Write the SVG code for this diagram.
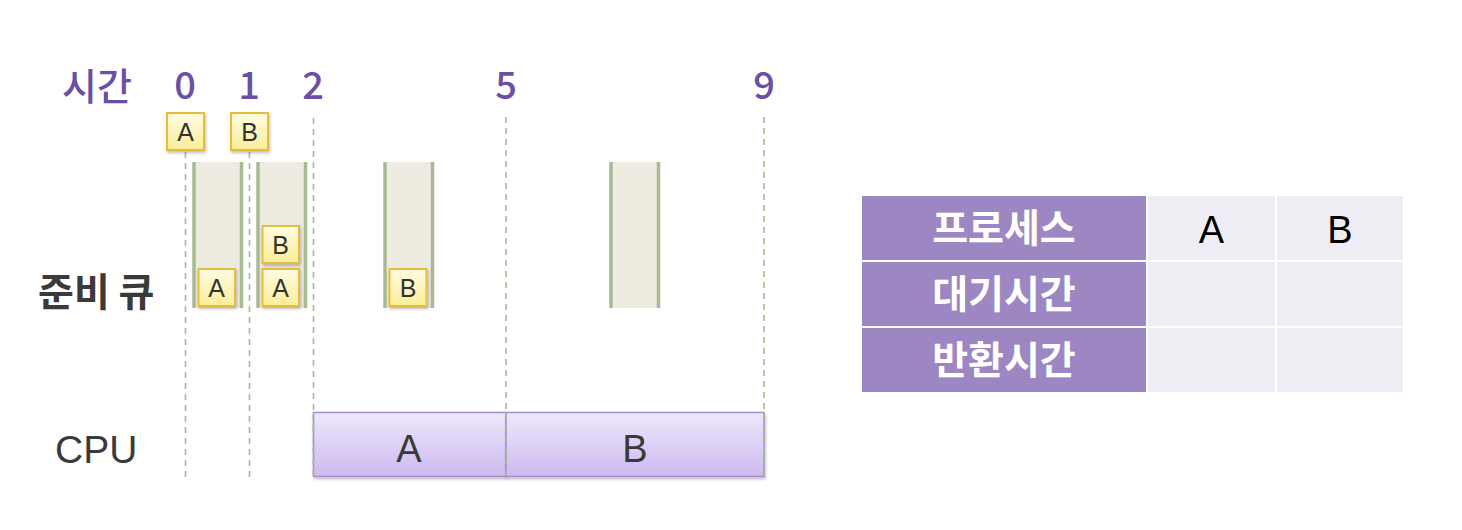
<svg xmlns="http://www.w3.org/2000/svg" width="1462" height="530" viewBox="0 0 1462 530">
<style>
.t{font-family:"Noto Sans CJK KR","Noto Sans",sans-serif;fill:#6B4FA3;font-size:38px;font-weight:500;text-anchor:middle}
.lbl{font-family:"Noto Sans CJK KR","Noto Sans",sans-serif;fill:#3A3A3A;font-size:39px;font-weight:700}
.cpu{font-family:"Liberation Sans",Arial,sans-serif;fill:#3A3A3A;font-size:39px}
.box{fill:url(#yg);stroke:#E6BE3A;stroke-width:2;filter:url(#sh)}
.bt{font-family:"Liberation Sans",Arial,sans-serif;fill:#333;font-size:25px;text-anchor:middle}
.q{fill:#EEEBE0}
.bar{stroke:#A9B993;stroke-width:3.5}
.dash{stroke:#A6BB90;stroke-width:1.6;stroke-dasharray:6 5;fill:none}
.hd{fill:#9D87C2}
.cell{fill:#EEEDF3}
.ht{font-family:"Noto Sans CJK KR","Noto Sans",sans-serif;fill:#fff;font-size:39px;font-weight:700;text-anchor:middle}
.ct{font-family:"Liberation Sans",Arial,sans-serif;fill:#000;font-size:38px;text-anchor:middle}
.pt{font-family:"Liberation Sans",Arial,sans-serif;fill:#3A3A3A;font-size:38px;text-anchor:middle}
</style>
<defs>
<linearGradient id="yg" x1="0" y1="0" x2="0" y2="1"><stop offset="0" stop-color="#FFFCE2"/><stop offset="1" stop-color="#FBEE98"/></linearGradient>
<linearGradient id="pg" x1="0" y1="0" x2="0" y2="1"><stop offset="0" stop-color="#EEE8FB"/><stop offset="1" stop-color="#CDB9F0"/></linearGradient>
<filter id="sh" x="-20%" y="-20%" width="150%" height="150%"><feDropShadow dx="1" dy="2" stdDeviation="1.5" flood-color="#000" flood-opacity="0.25"/></filter>
</defs>

<g id="time-labels">
<text class="t" x="97" y="100">시간</text>
<text class="t" x="185" y="99">0</text>
<text class="t" x="249" y="99">1</text>
<text class="t" x="313" y="99">2</text>
<text class="t" x="506" y="99">5</text>
<text class="t" x="764" y="99">9</text>
</g>

<g id="row-labels">
<text class="lbl" x="38" y="306">준비 큐</text>
<text class="cpu" x="55" y="463">CPU</text>
</g>

<g id="queue-columns">
<rect class="q" x="193" y="162" width="49" height="146"/>
<line class="bar" x1="194" y1="162" x2="194" y2="308"/><line class="bar" x1="241.5" y1="162" x2="241.5" y2="308"/>
<rect class="q" x="257" y="162" width="49" height="146"/>
<line class="bar" x1="258" y1="162" x2="258" y2="308"/><line class="bar" x1="305.5" y1="162" x2="305.5" y2="308"/>
<rect class="q" x="384" y="162" width="49" height="146"/>
<line class="bar" x1="385" y1="162" x2="385" y2="308"/><line class="bar" x1="432.5" y1="162" x2="432.5" y2="308"/>
<rect class="q" x="610" y="162" width="49" height="146"/>
<line class="bar" x1="611" y1="162" x2="611" y2="308"/><line class="bar" x1="658.5" y1="162" x2="658.5" y2="308"/>
</g>

<g id="connectors">
<line class="dash" x1="185.5" y1="152" x2="185.5" y2="477"/>
<line class="dash" x1="249.5" y1="152" x2="249.5" y2="477"/>
<line class="dash" x1="313.5" y1="118" x2="313.5" y2="477"/>
<line class="dash" x1="506" y1="117" x2="506" y2="477"/>
<line class="dash" x1="764" y1="117" x2="764" y2="477"/>
</g>

<g id="cpu-A">
<rect x="313.5" y="412.5" width="192.5" height="64" fill="url(#pg)" stroke="#A48ED0" stroke-width="1.5" filter="url(#sh)"/>
<text class="pt" x="409" y="462">A</text>
</g>
<g id="cpu-B">
<rect x="506" y="412.5" width="258" height="64" fill="url(#pg)" stroke="#A48ED0" stroke-width="1.5" filter="url(#sh)"/>
<text class="pt" x="635" y="462">B</text>
</g>
<line class="dash" x1="313.5" y1="414" x2="313.5" y2="476"/>
<line class="dash" x1="506" y1="414" x2="506" y2="476"/>
<line class="dash" x1="764" y1="414" x2="764" y2="476"/>

<g id="arrival-A"><rect class="box" x="167" y="113" width="37" height="37"/><text class="bt" x="185.5" y="140.5">A</text></g>
<g id="arrival-B"><rect class="box" x="231" y="113" width="37" height="37"/><text class="bt" x="249.5" y="140.5">B</text></g>
<g id="q0-A"><rect class="box" x="198.5" y="269" width="36.5" height="37"/><text class="bt" x="216.7" y="296.5">A</text></g>
<g id="q1-B"><rect class="box" x="262.5" y="226" width="36.5" height="37"/><text class="bt" x="280.7" y="253.5">B</text></g>
<g id="q1-A"><rect class="box" x="262.5" y="269" width="36.5" height="37"/><text class="bt" x="280.7" y="296.5">A</text></g>
<g id="q2-B"><rect class="box" x="389.5" y="269" width="37" height="37"/><text class="bt" x="408" y="296.5">B</text></g>

<g id="table">
<rect class="hd" x="862" y="196" width="284" height="64"/>
<rect class="cell" x="1148" y="196" width="127" height="64"/>
<rect class="cell" x="1277" y="196" width="126" height="64"/>
<rect class="hd" x="862" y="262" width="284" height="64"/>
<rect class="cell" x="1148" y="262" width="127" height="64"/>
<rect class="cell" x="1277" y="262" width="126" height="64"/>
<rect class="hd" x="862" y="328" width="284" height="64"/>
<rect class="cell" x="1148" y="328" width="127" height="64"/>
<rect class="cell" x="1277" y="328" width="126" height="64"/>
<text class="ht" x="1004" y="242">프로세스</text>
<text class="ht" x="1004" y="308">대기시간</text>
<text class="ht" x="1004" y="374">반환시간</text>
<text class="ct" x="1211.5" y="243">A</text>
<text class="ct" x="1340" y="243">B</text>
</g>
</svg>
